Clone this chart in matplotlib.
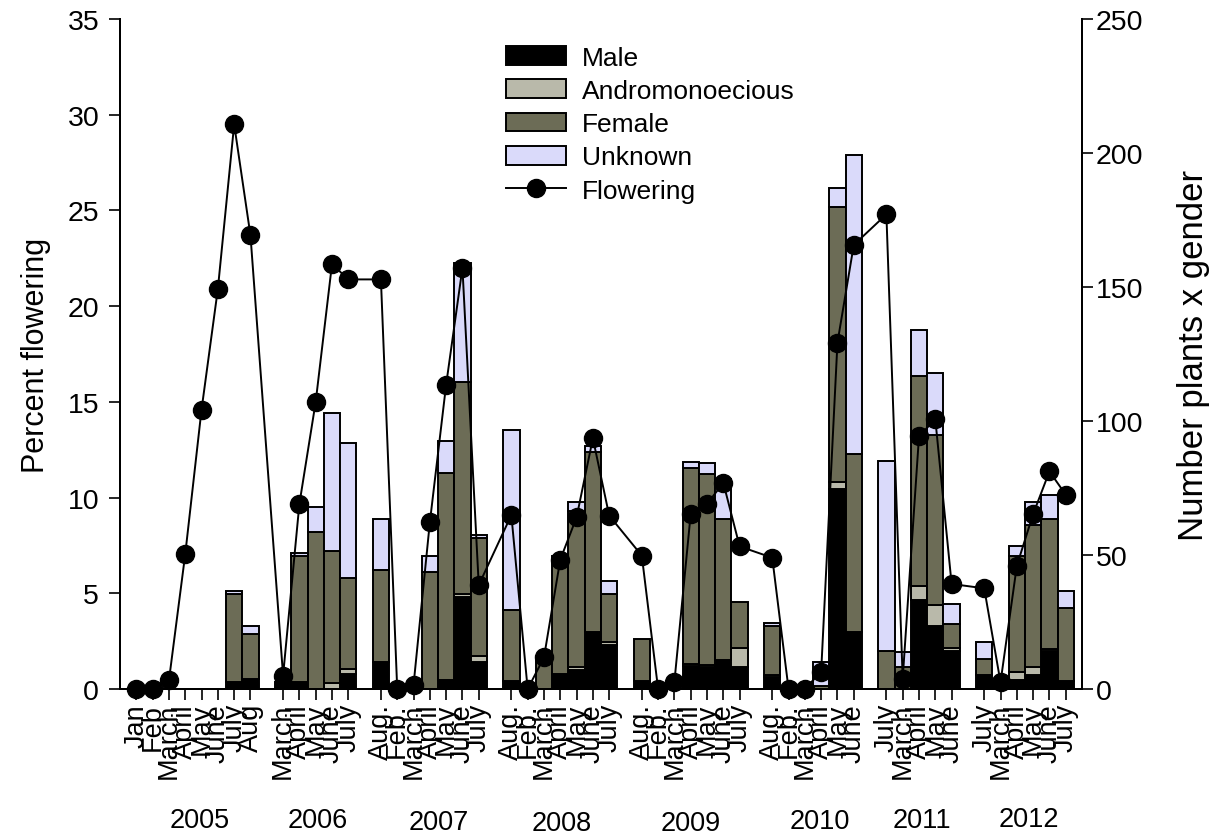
import matplotlib
matplotlib.use("Agg")
import matplotlib.pyplot as plt
from matplotlib.patches import Patch
from matplotlib.lines import Line2D
from matplotlib.transforms import blended_transform_factory
import numpy as np

plt.rcParams["font.family"] = ["Liberation Sans", "DejaVu Sans"]

# month labels, one list per block of consecutive samples
groups = [
    ["Jan", "Feb", "March", "April", "May", "June", "July", "Aug"],
    ["March", "April", "May", "June", "July"],
    ["Aug.", "Feb.", "March", "April", "May", "June", "July"],
    ["Aug.", "Feb.", "March", "April", "May", "June", "July"],
    ["Aug.", "Feb.", "March", "April", "May", "June", "July"],
    ["Aug.", "Feb.", "March", "April", "May", "June"],
    ["July", "March", "April", "May", "June"],
    ["July", "March", "April", "May", "June", "July"],
]
years = ["2005", "2006", "2007", "2008", "2009", "2010", "2011", "2012"]

# percent flowering (left axis)
flowering = [
    0, 0, 0.45, 7.05, 14.6, 20.9, 29.5, 23.7,
    0.7, 9.67, 15.0, 22.2, 21.4,
    21.4, 0, 0.2, 8.7, 15.9, 22.0, 5.43,
    9.09, 0, 1.65, 6.76, 8.97, 13.1, 9.06,
    6.97, 0, 0.38, 9.16, 9.67, 10.77, 7.45,
    6.86, 0, 0, 0.91, 18.1, 23.2,
    24.8, 0.54, 13.2, 14.1, 5.49,
    5.26, 0.35, 6.44, 9.14, 11.37, 10.15,
]

# number of plants per gender (right axis)
male = [
    0, 0, 0, 0, 0, 0, 2.8, 3.7,
    2.5, 2.5, 0, 0, 5.6,
    10.2, 0, 0, 0, 3.5, 34.4, 10.2,
    3.1, 0, 0, 5.6, 7.2, 21.4, 16.4,
    3.1, 0, 0, 8.5, 8.1, 11.0, 8.4,
    4.4, 0, 0, 0, 74.6, 21.2,
    0, 0, 33.3, 23.5, 14.3,
    5.2, 3.0, 3.4, 5.3, 14.3, 3.1,
]
andro = [
    0, 0, 0, 0, 0, 0, 0, 0,
    0, 0, 0, 2.1, 1.9,
    0, 0, 0, 0, 0, 1.0, 2.0,
    0, 0, 0, 0, 1.1, 0, 1.0,
    0, 0, 0, 0.8, 0.8, 0, 6.9,
    0.8, 0, 0, 0, 2.8, 0,
    0, 0, 5.2, 7.8, 1.1,
    0, 0, 2.8, 2.8, 0.6, 0,
]
female = [
    0, 0, 0, 0, 0, 0, 32.6, 16.8,
    0, 47.0, 58.5, 49.3, 33.9,
    34.3, 0, 0, 43.5, 77.0, 79.3, 44.1,
    26.4, 0, 12.4, 44.2, 58.2, 67.2, 18.0,
    15.6, 0, 0, 73.1, 71.4, 52.4, 17.3,
    18.3, 0, 0, 1.2, 102.5, 66.4,
    14.3, 8.1, 78.2, 63.5, 8.7,
    6.0, 0, 43.6, 53.2, 48.5, 27.1,
]
unknown = [
    0, 0, 0, 0, 0, 0, 1.3, 2.9,
    0, 1.2, 9.3, 51.5, 50.3,
    18.9, 0, 0, 6.3, 12.2, 44.3, 1.3,
    67.3, 0, 0, 0, 3.2, 2.0, 5.0,
    0, 0, 0, 2.2, 4.2, 14.8, 0,
    1.3, 0, 0, 8.8, 7.2, 111.5,
    70.7, 5.6, 17.4, 23.3, 7.5,
    6.2, 0, 3.7, 8.4, 9.1, 6.5,
]

series = [
    ("Male", male, "#000000"),
    ("Andromonoecious", andro, "#b9b9aa"),
    ("Female", female, "#6c6c56"),
    ("Unknown", unknown, "#dadafa"),
]

# year label placement (shift in slots from block centre, height in figure fraction)
year_dx = [0.4, 0.1, 0.55, 0.1, 0.0, 0.4, 0.2, 0.25]
year_y = [0.019, 0.019, 0.017, 0.015, 0.015, 0.018, 0.019, 0.020]

# x positions: one slot per sample, an empty slot between blocks
xpos, labels, centers = [], [], []
x = 1
for g in groups:
    start = x
    for lbl in g:
        xpos.append(x)
        labels.append(lbl)
        x += 1
    centers.append((start + x - 1) / 2)
    x += 1
xpos = np.array(xpos)

fig = plt.figure(figsize=(12.21, 8.37), dpi=100)
ax = fig.add_axes([0.0983, 0.1756, 0.7879, 0.8004])
ax2 = ax.twinx()

bottom = np.zeros(len(xpos))
for name, vals, col in series:
    vals = np.array(vals, dtype=float)
    m = vals > 0
    ax2.bar(xpos[m], vals[m], width=1.0, bottom=bottom[m], color=col,
            edgecolor="black", linewidth=1.4, align="center")
    bottom += vals

ax.plot(xpos, flowering, color="black", lw=1.4, marker="o", ms=13, zorder=5,
        clip_on=False)

ax.set_zorder(ax2.get_zorder() + 1)
ax.patch.set_visible(False)

ax.set_xlim(0, 59)
ax.set_ylim(0, 35)
ax2.set_ylim(0, 250)
ax.set_yticks(np.arange(0, 36, 5))
ax2.set_yticks(np.arange(0, 251, 50))

ax.set_xticks(xpos)
ax.set_xticklabels(labels, rotation=90, fontsize=19.5)
ax.tick_params(axis="x", direction="out", length=8, width=1.2, pad=2)
ax.tick_params(axis="y", direction="out", length=8, width=1.2, labelsize=20.5, pad=7)
ax2.tick_params(axis="y", direction="out", length=8, width=1.2, labelsize=20.5, pad=2)

for a in (ax, ax2):
    a.spines["top"].set_visible(False)
    for s in ("left", "right", "bottom"):
        a.spines[s].set_linewidth(1.4)

ax.set_ylabel("Percent flowering", fontsize=22, labelpad=12)
ax2.set_ylabel("Number plants x gender", fontsize=25, labelpad=24)

ytrans = blended_transform_factory(ax.transData, fig.transFigure)
for yr, c, dx, yy in zip(years, centers, year_dx, year_y):
    ax.text(c + dx, yy, yr, transform=ytrans, ha="center", va="center", fontsize=19.5)

handles = [Patch(facecolor=col, edgecolor="black", linewidth=1.4, label=name)
           for name, vals, col in series]
handles.append(Line2D([], [], color="black", lw=1.4, marker="o", ms=13, label="Flowering"))
ax.legend(handles=handles, loc="upper left", bbox_to_anchor=(0.39, 0.976),
          frameon=False, fontsize=19, handlelength=2.3, handleheight=0.72,
          labelspacing=0.35, handletextpad=0.6, borderaxespad=0)

fig.savefig("out.png", dpi=100)
